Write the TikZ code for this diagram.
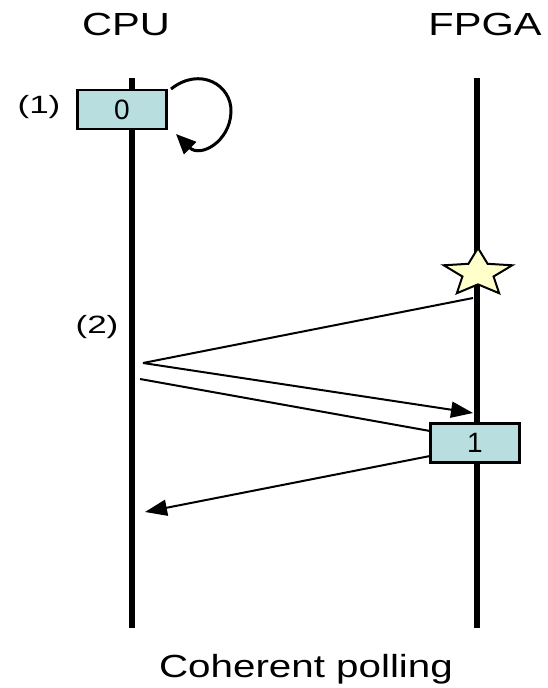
\documentclass[tikz,border=0pt]{standalone}
\usepackage{fontspec}
\setmainfont{Liberation Sans}
\usetikzlibrary{arrows.meta,shapes.geometric}
\definecolor{boxblue}{HTML}{B8DEE0}
\definecolor{staryellow}{HTML}{FFFFCC}
\begin{document}
\begin{tikzpicture}[x=1pt,y=-1pt,
  lifeline/.style={line width=6pt},
  msgbox/.style={draw, line width=2.5pt, fill=boxblue, minimum width=89pt, minimum height=39pt, inner sep=0pt, font=\fontsize{28}{30}\selectfont},
  title/.style={anchor=base, inner sep=0pt, font=\fontsize{32}{36}\selectfont, xscale=1.3},
  steplbl/.style={anchor=base, inner sep=0pt, font=\fontsize{25}{28}\selectfont, xscale=1.4},
  msg/.style={line width=2pt},
  tip/.style={-{Triangle[length=22pt,width=16pt]}}
]
\useasboundingbox (0,0) rectangle (548,688);
% lifelines
\coordinate (cpuTop) at (132,78);
\coordinate (cpuBot) at (132,628);
\coordinate (fpgaTop) at (477,78);
\coordinate (fpgaBot) at (477,628);
\draw[lifeline] (cpuTop) -- (cpuBot);
\draw[lifeline] (fpgaTop) -- (fpgaBot);
% titles
\node[title] (cpu) at (126,35) {CPU};
\node[title] (fpga) at (485,35) {FPGA};
\node[title, xscale=0.97] (caption) at (306,677) {Coherent polling};
% step labels
\node[steplbl] (lab1) at (39,113) {(1)};
\node[steplbl] (lab2) at (97,333) {(2)};
% boxes
\node[msgbox] (box0) at (122,109.5) {0};
\node[msgbox] (box1) at (475,443) {1};
% self loop
\coordinate (l0) at (171,89);
\coordinate (l1) at (231,112);
\coordinate (l2) at (176,134);
\draw[line width=3pt, -{Triangle[length=20pt,width=17pt]}] (l0) .. controls (200,66) and (232,85) .. (l1) .. controls (230,142) and (200,158) .. (l2);
% star
\node[star, star points=5, star point ratio=2.2, draw, line width=2pt, fill=staryellow, minimum size=50pt, inner sep=0pt, xscale=1.44] (star) at (478,273) {};
% messages
\coordinate (p1) at (473,298);
\coordinate (p2) at (143,363);
\coordinate (p3) at (473,413);
\coordinate (p4) at (140,379);
\coordinate (p6) at (430,431);
\coordinate (p7) at (430,456);
\coordinate (p5) at (145,512);
\draw[msg] (p1) -- (p2);
\draw[msg, tip] (p2) -- (p3);
\draw[msg] (p4) -- (p6);
\draw[msg, tip] (p7) -- (p5);
\end{tikzpicture}
\end{document}
